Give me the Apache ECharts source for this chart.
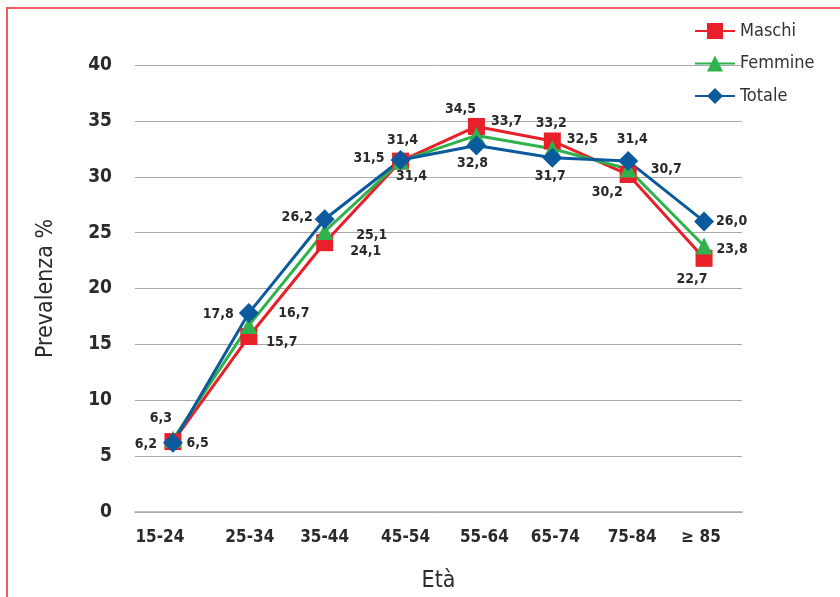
<!DOCTYPE html>
<html>
<head>
<meta charset="utf-8">
<script src="https://cdn.jsdelivr.net/npm/echarts@6/dist/echarts.min.js"></script>
<style>
  html, body { margin: 0; padding: 0; background: #fff; }
  #chart { width: 840px; height: 597px; }
</style>
</head>
<body>
<div id="chart"></div>
<script>
// Age classes and prevalence (%) by sex
const ageGroups = ['15-24', '25-34', '35-44', '45-54', '55-64', '65-74', '75-84', '\u2265 85'];
const maschi  = [6.3, 15.7, 24.1, 31.4, 34.5, 33.2, 30.2, 22.7];
const femmine = [6.5, 16.7, 25.1, 31.4, 33.7, 32.5, 30.7, 23.8];
const totale  = [6.2, 17.8, 26.2, 31.5, 32.8, 31.7, 31.4, 26.0];
const yTicks  = [0, 5, 10, 15, 20, 25, 30, 35, 40];

const FONT = "'Liberation Sans Narrow', 'DejaVu Sans Condensed', 'Roboto Condensed', Arial, sans-serif";
const TXT = '#2a2a2a';

// label placement per point: [position, dx, dy]
const placeM = [['top', -12, -3], ['right', 4, 6], ['right', 12, 9], ['top', 2, 0], ['top', -16, 3], ['top', -1, 3], ['bottom', -21, -3], ['bottom', -12, 1]];
const placeF = [['right', 0, 4], ['right', 16, -12], ['right', 18, 4], ['bottom', 11, -5], ['right', 1, -14], ['right', 1, -9], ['right', 9, 0], ['right', -1, 3]];
const placeT = [['left', -1, 2], ['left', 0, 1], ['left', 3, -2], ['left', -1, -2], ['bottom', -4, -4], ['bottom', -2, -3], ['top', 4, 0], ['right', -3, 0]];

// horizontal nudge (px) of each category label under its tick
const labelShift = [-13, 1, 0, 5, 8, 3, 4, -3];

function fmt(v) { return v.toFixed(1).replace('.', ','); }

function seriesData(values, place) {
  return values.map((v, i) => ({
    value: v,
    label: { position: place[i][0], offset: [place[i][1], place[i][2]] }
  }));
}

function makeSeries(name, values, place, color, symbol, size) {
  return {
    name: name,
    type: 'line',
    data: seriesData(values, place),
    symbol: symbol,
    symbolSize: size,
    lineStyle: { color: color, width: 3 },
    itemStyle: { color: color },
    label: {
      show: true,
      formatter: p => fmt(p.value),
      fontFamily: FONT,
      fontSize: 14,
      fontWeight: 'bold',
      color: TXT
    },
    emphasis: { disabled: true },
    animation: false
  };
}

const catRich = {};
labelShift.forEach((s, i) => {
  catRich['c' + i] = {
    fontFamily: FONT, fontSize: 17, fontWeight: 'bold', color: TXT,
    padding: s >= 0 ? [0, 0, 0, 2 * s] : [0, -2 * s, 0, 0]
  };
});

const chart = echarts.init(document.getElementById('chart'), null, { renderer: 'canvas' });
chart.setOption({
  backgroundColor: '#fff',
  animation: false,
  graphic: [{
    type: 'rect',
    shape: { x: 7, y: 8, width: 900, height: 700 },
    style: { fill: 'none', stroke: '#ef5b60', lineWidth: 2 },
    silent: true
  }],
  legend: {
    orient: 'vertical',
    left: 694,
    top: 22,
    padding: 0,
    itemWidth: 40,
    itemHeight: 20,
    itemGap: 14.5,
    data: ['Maschi', 'Femmine', 'Totale'],
    textStyle: { fontFamily: FONT, fontSize: 18, color: '#333' }
  },
  grid: { left: 135, right: 98, top: 65, bottom: 85, containLabel: false, outerBoundsMode: 'none' },
  xAxis: {
    type: 'category',
    data: ageGroups,
    boundaryGap: true,
    name: 'Et\u00e0',
    nameLocation: 'middle',
    nameGap: 58,
    nameTextStyle: { fontFamily: FONT, fontSize: 23, color: TXT },
    axisLine: { show: true, lineStyle: { color: '#a9a9a9', width: 1.5 } },
    axisTick: { show: false },
    axisLabel: {
      margin: 17,
      formatter: (val, idx) => '{c' + idx + '|' + val + '}',
      rich: catRich
    }
  },
  yAxis: {
    type: 'value',
    min: yTicks[0],
    max: yTicks[yTicks.length - 1],
    interval: 5,
    name: 'Prevalenza %',
    nameLocation: 'middle',
    nameGap: 77,
    nameTextStyle: { fontFamily: FONT, fontSize: 23, color: TXT },
    axisLine: { show: false },
    axisTick: { show: false },
    splitLine: { lineStyle: { color: '#a9a9a9', width: 1 } },
    axisLabel: { fontFamily: FONT, fontSize: 19, fontWeight: 'bold', color: TXT, margin: 23 }
  },
  series: [
    makeSeries('Maschi', maschi, placeM, '#e8202a', 'rect', 17),
    makeSeries('Femmine', femmine, placeF, '#2fb14b', 'triangle', 17),
    makeSeries('Totale', totale, placeT, '#0b5a9e', 'diamond', 20)
  ]
});
</script>
</body>
</html>
